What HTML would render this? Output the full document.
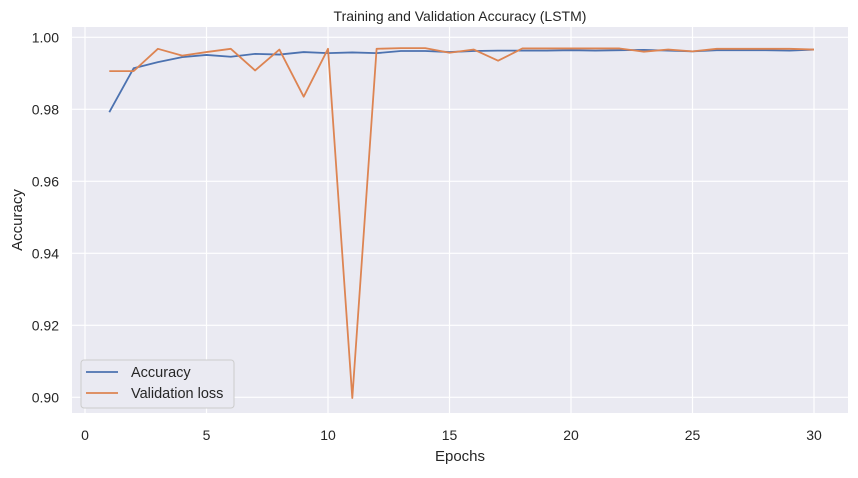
<!DOCTYPE html>
<html><head><meta charset="utf-8"><style>
body{margin:0;background:#fff;}
svg text{font-family:"Liberation Sans",sans-serif;fill:#262626;}
</style></head><body>
<svg id="c" width="858" height="473" xmlns="http://www.w3.org/2000/svg"></svg>
<script>
const epochs=[1,2,3,4,5,6,7,8,9,10,11,12,13,14,15,16,17,18,19,20,21,22,23,24,25,26,27,28,29,30];
const accuracy=[0.9792,0.9914,0.9931,0.9945,0.9951,0.9946,0.9954,0.9952,0.9959,0.9956,0.9958,0.9956,0.9962,0.9962,0.9959,0.9962,0.9963,0.9963,0.9963,0.9964,0.9963,0.9964,0.9965,0.9963,0.9961,0.9964,0.9964,0.9964,0.9963,0.9966];
const valAcc=[0.9906,0.9906,0.9968,0.9949,0.9959,0.9968,0.9908,0.9966,0.9835,0.9968,0.8998,0.9968,0.9970,0.9970,0.9957,0.9966,0.9935,0.9969,0.9969,0.9969,0.9969,0.9969,0.9960,0.9966,0.9961,0.9968,0.9968,0.9968,0.9968,0.9966];
const xTicks=[0,5,10,15,20,25,30];
const yTicks=[0.90,0.92,0.94,0.96,0.98,1.00];
const yTickLabels=["0.90","0.92","0.94","0.96","0.98","1.00"];
const NS="http://www.w3.org/2000/svg";
const svg=document.getElementById('c');
const L=72,R=848,T=27,B=413;
const xs=v=>85+v*24.3;
const ys=v=>37.3+(1-v)*3600;
function el(t,a,p){const e=document.createElementNS(NS,t);for(const k in a)e.setAttribute(k,a[k]);(p||svg).appendChild(e);return e;}
const bg=el('rect',{x:L,y:T,width:R-L,height:B-T,fill:'#eaeaf2'});


xTicks.forEach(t=>{
 const g=el('line',{x1:xs(t),x2:xs(t),y1:T,y2:B,stroke:'#fff','stroke-width':1.2});
 
 
 const tx=el('text',{x:xs(t),y:440,'text-anchor':'middle','font-size':14});
 tx.textContent=t;
 
 
});
yTicks.forEach((t,i)=>{
 const g=el('line',{x1:L,x2:R,y1:ys(t),y2:ys(t),stroke:'#fff','stroke-width':1.2});
 
 
 const tx=el('text',{x:L-13,y:ys(t)+5,'text-anchor':'end','font-size':14});
 tx.textContent=yTickLabels[i];
 
 
});
function line(vals,color,name){
 const p=el('polyline',{points:vals.map((v,i)=>xs(epochs[i])+','+ys(v)).join(' '),fill:'none',stroke:color,'stroke-width':1.8,'stroke-linejoin':'round'});
 
 
}
line(accuracy,'#4c72b0','accuracy-line');
line(valAcc,'#dd8452','validation-line');
const title=el('text',{x:(L+R)/2,y:21,'text-anchor':'middle','font-size':14});
title.textContent='Training and Validation Accuracy (LSTM)';


const xl=el('text',{x:(L+R)/2,y:461,'text-anchor':'middle','font-size':15});
xl.textContent='Epochs';


const yl=el('text',{x:0,y:0,'text-anchor':'middle','font-size':15,transform:'translate(22,'+((T+B)/2)+') rotate(-90)'});
yl.textContent='Accuracy';


const lg=el('g',{});


el('rect',{x:81,y:360,width:153,height:48,rx:3,fill:'#eaeaf2',stroke:'#cccccc','stroke-width':1},lg);
[['Accuracy','#4c72b0',372],['Validation loss','#dd8452',393]].forEach(([n,c,y])=>{
 const g=el('g',{},lg);
 
 
 el('line',{x1:86,x2:118,y1:y,y2:y,stroke:c,'stroke-width':1.8},g);
 const t=el('text',{x:131,y:y+5,'font-size':14.5},g);
 t.textContent=n;
});
</script>
</body></html>
